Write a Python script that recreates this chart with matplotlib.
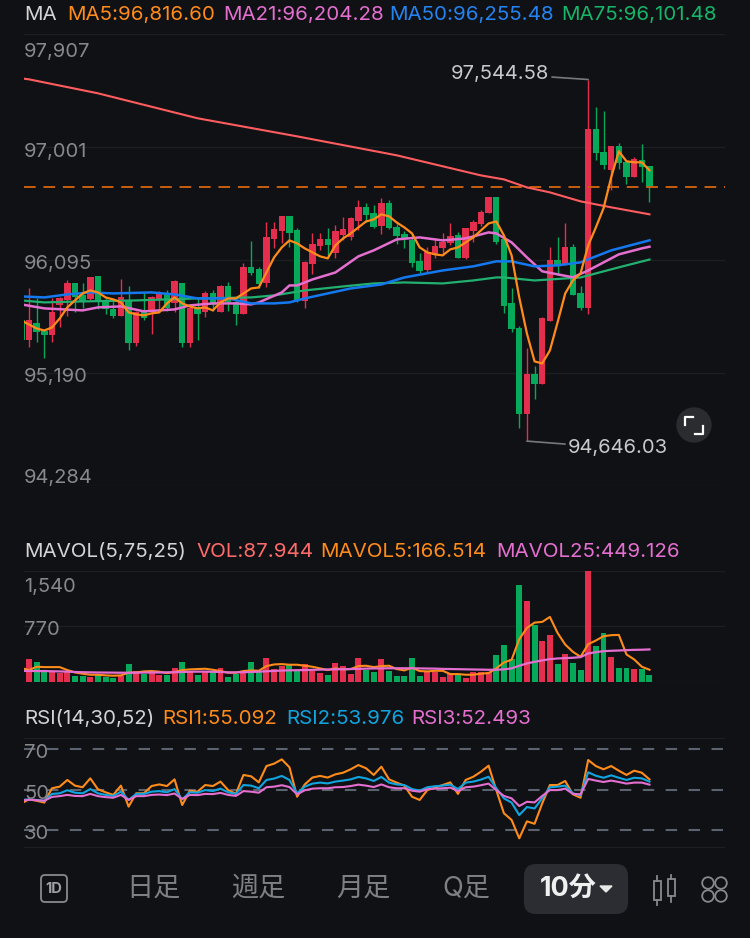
import numpy as np
import matplotlib
matplotlib.use("Agg")
import matplotlib.pyplot as plt
from matplotlib.patches import FancyBboxPatch, Circle, Polygon, Rectangle

plt.rcParams['font.family'] = ['Inter', 'Noto Sans CJK JP', 'DejaVu Sans']

# ---- Price data (10 min candles) ----
opens = [95613,95453,95589,95525,95493,95734,95774,95910,95814,95782,95966,95774,95709,95653,95774,95429,95678,95678,95782,95830,95750,95910,95429,95717,95678,95830,95678,95886,95758,95669,96038,96022,95910,96263,96327,96447,96335,95766,96063,96207,96263,96151,96295,96279,96407,96520,96472,96367,96552,96359,96303,96255,96087,96014,96135,96191,96231,96295,96111,96327,96383,96472,96600,96263,95750,95549,94867,95188,95100,95605,96095,96055,96199,95830,95717,97145,96961,96816,97009,96881,96760,96897,96849]
highs = [95613,95870,95790,95525,95790,95798,95934,95910,95910,95958,95966,95790,95774,95942,95886,95693,95830,95806,95846,95854,95934,95910,95733,95798,95846,95854,95894,95918,95774,96070,96247,96038,96399,96399,96447,96447,96351,96087,96311,96311,96351,96375,96439,96439,96576,96552,96536,96592,96576,96383,96327,96295,96151,96199,96271,96311,96391,96319,96351,96415,96496,96600,96600,96263,95870,95565,95389,95252,95645,96199,96279,96391,96223,95886,97544.58,97322,97290,97009,97033,96881,96921,97025,96849]
lows = [95453,95397,95437,95309,95437,95557,95653,95678,95717,95774,95709,95669,95629,95653,95373,95405,95613,95501,95709,95693,95678,95397,95397,95453,95645,95693,95678,95693,95573,95669,95974,95870,95878,96191,96231,96199,95758,95717,95982,96175,96111,96111,96255,96255,96335,96399,96351,96303,96343,96223,96191,96038,95990,95998,96111,96135,96215,96111,96103,96239,96367,96472,96223,95677,95517,94755,94646.03,94980,95100,95605,95974,96055,95814,95701,95669,96897,96825,96656,96825,96704,96760,96720,96560]
closes = [95453,95613,95517,95493,95678,95790,95910,95798,95766,95958,95758,95709,95653,95798,95429,95678,95637,95798,95830,95717,95926,95429,95717,95669,95830,95734,95886,95758,95669,96038,95990,95902,96279,96343,96447,96311,95774,96079,96223,96263,96215,96327,96343,96431,96520,96456,96359,96552,96351,96287,96263,96071,96006,96159,96207,96239,96287,96111,96351,96399,96480,96600,96239,95733,95541,94867,95188,95100,95629,96095,96055,96199,95814,95717,97145,96953,96857,97009,96873,96760,96905,96841,96680]

ma5 = [95613,95581,95549,95533,95557,95629,95718,95774,95830,95854,95838,95798,95782,95758,95678,95662,95654,95670,95678,95750,95798,95750,95726,95710,95718,95694,95758,95790,95790,95830,95870,95878,95998,96119,96199,96255,96231,96191,96159,96127,96111,96215,96271,96311,96359,96407,96423,96464,96448,96399,96359,96311,96199,96159,96143,96135,96183,96199,96239,96279,96335,96391,96407,96295,96135,95798,95509,95285,95269,95373,95597,95830,95934,95990,96215,96359,96512,96760,96969,96889,96881,96881,96816.60]

ma21_idx = [-1,2,7,9,12,15,19,21,24,27,29,30,33,34,35,37,40,43,45,48,51,54,57,59,60,61,63,65,67,69,71,73,77,80,81]
ma21 = [95742,95710,95694,95718,95726,95686,95702,95734,95750,95750,95742,95758,95838,95894,95894,95942,95998,96127,96175,96263,96279,96255,96271,96303,96319,96311,96239,96119,96007,95983,95959,96014,96143,96191,96204.28]

ma50_idx = [-1,2,5,8,11,16,19,22,26,29,32,34,36,39,42,46,49,54,58,61,63,66,69,72,76,81]
ma50 = [95806,95798,95822,95838,95830,95838,95822,95790,95790,95750,95750,95758,95790,95830,95870,95902,95958,96014,96047,96087,96087,96047,96055,96079,96175,96255.48]

ma75_idx = [-1,2,7,14,22,29,32,36,41,45,49,54,58,61,62,66,72,77,81]
ma75 = [95774,95758,95766,95774,95790,95798,95814,95854,95886,95910,95918,95910,95934,95958,95958,95934,95958,96039,96101.48]

ma_long_idx = [-1,0,9,22,35,48,59,62,65,68,72,76,81]
ma_long = [97554,97546,97434,97234,97089,96937,96776,96744,96680,96640,96568,96520,96464]

last_price = 96680
price_ticks = [97907, 97001, 96095, 95190, 94284]

# ---- Volume ----
volumes = [150,310,268,162,139,125,139,83,83,60,92,69,55,79,245,148,106,148,92,92,194,277,148,92,148,139,185,69,102,129,268,139,333,176,217,231,148,240,148,125,92,263,217,102,333,162,139,314,148,83,83,323,79,139,129,60,106,92,55,129,129,139,370,517,310,1349,1123,795,568,647,240,379,254,157,1540,499,684,337,185,194,171,176,87.944]
mavol5 = [190,162,208,203,203,203,162,129,111,97,97,88,83,88,125,129,143,148,139,120,134,162,171,176,180,166,148,125,125,148,157,152,217,240,245,236,236,222,208,185,162,185,171,176,217,222,203,217,222,176,157,194,148,143,152,152,106,106,97,97,111,120,185,268,305,591,748,822,832,901,679,517,416,346,522,573,633,647,651,379,310,208,166.514]
mavol25 = [150,150,148,148,145,143,140,135,132,130,128,127,126,125,125,125,127,128,128,130,132,135,138,140,140,138,135,130,130,132,135,140,145,150,155,158,160,162,165,168,170,172,174,176,178,182,185,185,187,187,187,187,185,183,182,178,176,174,172,170,168,166,166,172,185,222,254,277,296,314,323,328,333,342,393,411,425,430,434,439,443,445,449.126]
vol_ticks = [1540, 770, 0]

# ---- RSI ----
rsi1 = [43.2,45.2,44.5,43.6,50.7,51.5,54.8,52.0,51.2,55.6,50.2,48.7,47.4,52.0,41.6,48.2,48.2,51.8,52.6,51.8,55.1,42.4,49.5,49.0,52.3,51.8,54.0,49.8,47.9,57.3,56.6,53.6,61.7,62.9,65.0,61.1,46.5,52.6,56.0,56.8,56.0,57.6,58.4,60.1,62.2,60.6,57.3,61.4,55.1,53.5,52.0,46.5,44.9,49.8,51.0,52.3,53.6,47.9,54.8,56.4,58.9,61.9,49.8,38.3,35.0,25.9,34.3,33.1,43.2,52.3,52.3,54.3,47.7,46.0,64.7,61.7,60.1,61.7,59.4,57.3,59.4,58.4,55.092]
rsi2 = [44.9,45.2,44.9,44.5,47.9,48.2,49.7,48.5,48.2,50.3,48.2,47.4,46.9,49.0,44.9,47.9,47.9,49.0,49.3,48.7,50.3,45.2,48.7,48.5,49.8,49.3,50.5,48.7,47.9,52.3,52.0,50.7,54.8,55.5,56.8,54.8,48.2,51.5,53.0,53.5,53.1,54.0,54.5,55.1,56.3,55.6,54.3,56.3,53.5,52.6,52.3,50.3,49.5,51.2,51.7,52.0,52.5,50.3,53.5,54.0,55.0,56.4,50.7,45.7,43.6,37.4,41.4,40.7,45.7,51.2,51.5,52.0,48.2,47.2,58.6,56.9,55.9,57.1,55.9,54.8,55.9,55.6,53.976]
rsi3 = [44.6,45.0,44.8,44.5,46.4,46.8,47.4,46.9,46.8,47.9,46.8,46.3,46.0,47.4,44.9,46.8,46.8,47.4,47.6,47.3,48.1,45.4,47.4,47.3,47.9,47.8,48.4,47.4,46.9,49.3,49.0,48.5,51.2,51.5,52.2,51.3,47.7,49.7,50.5,50.7,50.7,51.2,51.3,51.8,52.5,52.0,51.3,52.6,51.2,50.7,50.7,49.5,49.0,50.2,50.5,50.7,51.0,49.3,51.2,51.5,52.2,53.0,49.8,46.9,45.7,41.9,44.0,43.7,46.9,49.8,49.8,50.5,47.9,47.7,55.3,54.5,53.8,54.5,53.8,53.0,53.5,53.5,52.493]
rsi_ticks = [70, 50, 30]

tabs = ['日足', '週足', '月足', 'Q足']

# ---- Colours ----
BG = '#101114'
RED = '#e42e4e'
GREEN = '#06a85a'
GRID = '#1d1e21'
LABEL = '#87888b'
ORANGE = '#ff8c1a'
PINK = '#e46fd0'
BLUE = '#1478ef'
SEAGREEN = '#22b070'
CORAL = '#ff5c60'
SKY = '#10a5e0'

W, H = 750, 938
fig = plt.figure(figsize=(W / 100, H / 100), dpi=100, facecolor=BG)


def panel(top, bottom):
    ax = fig.add_axes([24 / W, 1 - bottom / H, 701 / W, (bottom - top) / H], facecolor='none')
    ax.set_xlim(-0.653, 90.86)
    ax.set_xticks([])
    ax.tick_params(left=False, labelleft=False)
    for s in ax.spines.values():
        s.set_visible(False)
    return ax


x = np.arange(-1, 82)
o, h, l, c = map(np.array, (opens, highs, lows, closes))
colors = [RED if b >= a else GREEN for a, b in zip(o, c)]

# ---- Price panel ----
ax = panel(34.3, 486.3)
ax.set_ylim(price_ticks[-1], price_ticks[0])
ax.set_yticks(price_ticks)
ax.grid(axis='y', color=GRID, lw=1)
ax.set_axisbelow(True)
ax.vlines(x, l, h, colors=colors, lw=1.0, zorder=2)
ax.bar(x, np.maximum(np.abs(c - o), 8), bottom=np.minimum(o, c), width=0.84, color=colors, zorder=2)
ax.axhline(last_price, color='#c8600f', lw=1.4, dashes=(6, 4), zorder=3)
ax.plot(ma_long_idx, ma_long, color=CORAL, lw=1.5, zorder=4)
ax.plot(ma75_idx, ma75, color=SEAGREEN, lw=1.6, zorder=4)
ax.plot(ma21_idx, ma21, color=PINK, lw=1.8, zorder=5)
ax.plot(ma50_idx, ma50, color=BLUE, lw=1.8, zorder=5)
ax.plot(x, ma5, color=ORANGE, lw=1.6, zorder=6)

for val, off in zip(price_ticks, [-16, -3, -2, -2, 10]):
    ax.annotate(f'{val:,}', (0, val), xycoords=ax.get_yaxis_transform(), xytext=(0, off - 2),
                textcoords='offset pixels', color=LABEL, fontsize=14.5, va='center', zorder=8)

ax.annotate('97,544.58', (73, 97544.58), xytext=(-39, 6), textcoords='offset pixels', ha='right', va='center',
            color='#c9c9cb', fontsize=14.5, zorder=8,
            arrowprops=dict(arrowstyle='-', color='#77787b', lw=1.2, shrinkA=0, shrinkB=0))
ax.annotate('94,646.03', (65, 94646.03), xytext=(41, -7), textcoords='offset pixels', ha='left', va='center',
            color='#c9c9cb', fontsize=14.5, zorder=8,
            arrowprops=dict(arrowstyle='-', color='#77787b', lw=1.2, shrinkA=0, shrinkB=0))

# ---- Volume panel ----
vx = panel(571, 681.7)
vx.set_ylim(vol_ticks[-1], vol_ticks[0])
vx.set_yticks(vol_ticks)
vx.grid(axis='y', color=GRID, lw=1)
vx.set_axisbelow(True)
vx.bar(x, volumes, width=0.78, color=colors, zorder=2)
vx.plot(x, mavol5, color=ORANGE, lw=1.5, zorder=4)
vx.plot(x, mavol25, color=PINK, lw=1.6, zorder=5)
for val, off in zip(vol_ticks[:2], [-16, -4]):
    vx.annotate(f'{val:,}', (0, val), xycoords=vx.get_yaxis_transform(), xytext=(0, off),
                textcoords='offset pixels', color=LABEL, fontsize=14.5, va='center', zorder=8)

# ---- RSI panel ----
rx = panel(738, 848)
rx.set_ylim(21.1, 75.6)
rx.plot(x, rsi1, color=ORANGE, lw=1.5, zorder=3)
rx.plot(x, rsi2, color=SKY, lw=1.5, zorder=4)
rx.plot(x, rsi3, color=PINK, lw=1.5, zorder=5)
for val in rsi_ticks:
    rx.axhline(val, color='#5b6370', lw=1.5, dashes=(5.5, 5.5), zorder=2)
    rx.annotate(str(val), (0, val), xycoords=rx.get_yaxis_transform(), xytext=(0, -4),
                textcoords='offset pixels', color=LABEL, fontsize=14.5, va='center', zorder=8)
for edge in rx.get_ylim():
    rx.axhline(edge, color=GRID, lw=1.5)

# ---- Headers, toolbar, icons (screen pixels) ----
ui = fig.add_axes([0, 0, 1, 1], facecolor='none')
ui.set_xlim(0, W)
ui.set_ylim(H, 0)
ui.axis('off')

headers = [
    (24, 15, 'MA', '#d4d4d6'), (67, 15, 'MA5:96,816.60', ORANGE), (223, 15, 'MA21:96,204.28', PINK),
    (389, 15, 'MA50:96,255.48', '#2384f2'), (561, 15, 'MA75:96,101.48', '#16b56a'),
    (24, 552, 'MAVOL(5,75,25)', '#d4d4d6'), (196, 552, 'VOL:87.944', '#ff6b6b'),
    (320, 552, 'MAVOL5:166.514', ORANGE), (496, 552, 'MAVOL25:449.126', PINK),
    (24, 719, 'RSI(14,30,52)', '#d4d4d6'), (162, 719, 'RSI1:55.092', ORANGE),
    (286, 719, 'RSI2:53.976', SKY), (411, 719, 'RSI3:52.493', PINK),
]
for hx, hy, txt, col in headers:
    ui.text(hx, hy, txt, color=col, fontsize=14.8, va='center', ha='left')

# expand button
ui.add_patch(Circle((694, 425), 17, color='#2a2c30'))
ui.plot([693, 685, 685], [417, 417, 425], color='white', lw=1.6)
ui.plot([695, 703, 703], [434, 434, 426], color='white', lw=1.6)

# toolbar
ui.add_patch(FancyBboxPatch((41, 875), 26, 27, boxstyle='round,pad=0,rounding_size=4', fc='none', ec='#88898c', lw=1.3))
ui.text(54, 889, '1D', color='#a0a1a4', fontsize=10.5, ha='center', va='center', fontweight='bold')
for tab, tx in zip(tabs, [153.5, 258, 363, 466]):
    ui.text(tx, 889, tab, color='#7f8083', fontsize=19.5, ha='center', va='center')
ui.add_patch(FancyBboxPatch((531, 871), 90, 36, boxstyle='round,pad=7,rounding_size=12', fc='#2b2d33', ec='none'))
ui.text(568, 889, '10分', color='#f0f0f0', fontsize=19.5, ha='center', va='center', fontweight='bold')
ui.add_patch(Polygon([[600, 886], [612, 886], [606, 892]], color='#e8e8e8'))

# candle icon
for ix, top, bottom, y0, y1 in [(657, 881, 900, 876, 905), (671, 879, 896, 875, 902)]:
    ui.plot([ix, ix], [y0, top], color='#88898c', lw=1.3)
    ui.plot([ix, ix], [bottom, y1], color='#88898c', lw=1.3)
    ui.add_patch(Rectangle((ix - 3.5, top), 7, bottom - top, fc='none', ec='#88898c', lw=1.3))
# grid icon
for ix, iy in [(708, 883), (721, 883), (708, 896), (721, 896)]:
    ui.add_patch(Circle((ix, iy), 5.8, fc='none', ec='#88898c', lw=1.3))

fig.savefig('out.png', dpi=100, facecolor=BG)
